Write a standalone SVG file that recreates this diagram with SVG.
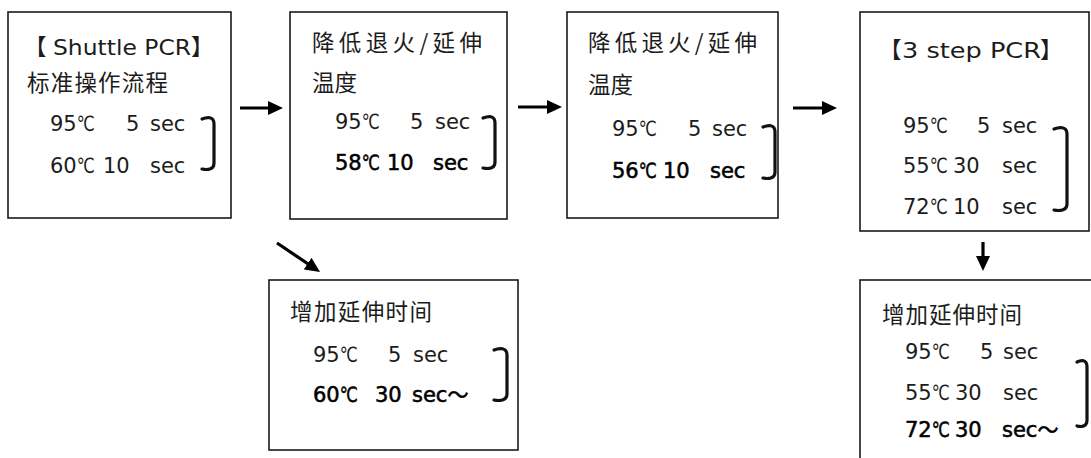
<svg xmlns="http://www.w3.org/2000/svg" width="1091" height="458" viewBox="0 0 1091 458">
<style>
.box{fill:#fff;stroke:#1a1a1a;stroke-width:1.6}
.t{font-family:"DejaVu Sans","Noto Sans CJK SC",sans-serif;font-size:21px;fill:#1c1c1c}
.cjk{font-family:"Noto Sans CJK SC","DejaVu Sans",sans-serif;font-size:22.5px;fill:#1c1c1c}
.b{fill:#000;stroke:#000;stroke-width:0.55}
.br{fill:none;stroke:#111;stroke-width:3.2;stroke-linecap:round}
.ar{stroke:#000;stroke-width:3.2;fill:none}
</style>
<defs>
<marker id="ah" markerUnits="userSpaceOnUse" markerWidth="16" markerHeight="14" refX="7" refY="7" orient="auto">
<path d="M0,0 L15,7 L0,14 z" fill="#000"/>
</marker>
</defs>
<rect width="1091" height="458" fill="#fff"/>

<g id="n1">
<rect class="box" x="8" y="12" width="223" height="206"/>
<text class="cjk" x="24" y="55">【<tspan class="t" x="53" textLength="138" lengthAdjust="spacingAndGlyphs">Shuttle PCR</tspan><tspan x="191">】</tspan></text>
<text class="cjk" x="27" y="91" textLength="141" lengthAdjust="spacing">标准操作流程</text>
<text class="t" y="131"><tspan x="50">95</tspan><tspan textLength="18" lengthAdjust="spacingAndGlyphs">℃</tspan><tspan x="126">5</tspan><tspan x="150">sec</tspan></text>
<text class="t" y="173"><tspan x="50">60</tspan><tspan textLength="18" lengthAdjust="spacingAndGlyphs">℃</tspan><tspan x="103">10</tspan><tspan x="150">sec</tspan></text>
<path class="br" d="M202,119 C207,117 214,116 214,124 V163 C214,170 207,170 202,169"/>
</g>

<g id="n2">
<rect class="box" x="290" y="12" width="217" height="207"/>
<text class="cjk" x="312" y="51" textLength="170" lengthAdjust="spacing">降低退火/延伸</text>
<text class="cjk" x="312" y="91">温度</text>
<text class="t" y="129"><tspan x="335">95</tspan><tspan textLength="18" lengthAdjust="spacingAndGlyphs">℃</tspan><tspan x="410">5</tspan><tspan x="435">sec</tspan></text>
<text class="t b" y="170"><tspan x="335">58</tspan><tspan textLength="18" lengthAdjust="spacingAndGlyphs">℃</tspan><tspan x="387">10</tspan><tspan x="433">sec</tspan></text>
<path class="br" d="M483,118 C488,116 495,115 495,123 V162 C495,169 488,169 483,168"/>
</g>

<g id="n3">
<rect class="box" x="567" y="12" width="211" height="206"/>
<text class="cjk" x="588" y="51" textLength="169" lengthAdjust="spacing">降低退火/延伸</text>
<text class="cjk" x="588" y="93">温度</text>
<text class="t" y="136"><tspan x="612">95</tspan><tspan textLength="18" lengthAdjust="spacingAndGlyphs">℃</tspan><tspan x="688">5</tspan><tspan x="712">sec</tspan></text>
<text class="t b" y="178"><tspan x="612">56</tspan><tspan textLength="18" lengthAdjust="spacingAndGlyphs">℃</tspan><tspan x="663">10</tspan><tspan x="710">sec</tspan></text>
<path class="br" d="M763,127 C768,125 775,124 775,132 V172 C775,179 768,179 763,178"/>
</g>

<g id="n4">
<rect class="box" x="860" y="12" width="229" height="219"/>
<text class="cjk" x="879" y="58">【<tspan class="t" x="902" textLength="139" lengthAdjust="spacingAndGlyphs">3 step PCR</tspan><tspan x="1040">】</tspan></text>
<text class="t" y="133"><tspan x="903">95</tspan><tspan textLength="18" lengthAdjust="spacingAndGlyphs">℃</tspan><tspan x="977">5</tspan><tspan x="1002">sec</tspan></text>
<text class="t" y="173"><tspan x="903">55</tspan><tspan textLength="18" lengthAdjust="spacingAndGlyphs">℃</tspan><tspan x="953">30</tspan><tspan x="1002">sec</tspan></text>
<text class="t" y="214"><tspan x="903">72</tspan><tspan textLength="18" lengthAdjust="spacingAndGlyphs">℃</tspan><tspan x="953">10</tspan><tspan x="1002">sec</tspan></text>
<path class="br" d="M1054,129 C1059,127 1067,126 1067,134 V204 C1067,211 1059,211 1054,210"/>
</g>

<g id="n5">
<rect class="box" x="269" y="280" width="249" height="170"/>
<text class="cjk" x="290" y="320" textLength="142" lengthAdjust="spacing">增加延伸时间</text>
<text class="t" y="362"><tspan x="313">95</tspan><tspan textLength="18" lengthAdjust="spacingAndGlyphs">℃</tspan><tspan x="388">5</tspan><tspan x="413">sec</tspan></text>
<text class="t b" y="402"><tspan x="313">60</tspan><tspan textLength="18" lengthAdjust="spacingAndGlyphs">℃</tspan><tspan x="375">30</tspan><tspan x="412">sec～</tspan></text>
<path class="br" d="M494,350 C499,348 507,347 507,355 V394 C507,401 499,401 494,400"/>
</g>

<g id="n6">
<rect class="box" x="860" y="280" width="240" height="200"/>
<text class="cjk" x="882" y="323" textLength="140" lengthAdjust="spacing">增加延伸时间</text>
<text class="t" y="359"><tspan x="905">95</tspan><tspan textLength="18" lengthAdjust="spacingAndGlyphs">℃</tspan><tspan x="980">5</tspan><tspan x="1003">sec</tspan></text>
<text class="t" y="400"><tspan x="905">55</tspan><tspan textLength="18" lengthAdjust="spacingAndGlyphs">℃</tspan><tspan x="955">30</tspan><tspan x="1003">sec</tspan></text>
<text class="t b" y="437"><tspan x="905">72</tspan><tspan textLength="18" lengthAdjust="spacingAndGlyphs">℃</tspan><tspan x="955">30</tspan><tspan x="1002">sec～</tspan></text>
<path class="br" d="M1077,362 C1081,360 1087,359 1087,367 V420 C1087,427 1081,427 1077,426"/>
</g>

<g id="connectors">
<line class="ar" x1="240" y1="108" x2="275" y2="108" marker-end="url(#ah)"/>
<line class="ar" x1="518" y1="107" x2="554" y2="107" marker-end="url(#ah)"/>
<line class="ar" x1="793" y1="108" x2="829" y2="108" marker-end="url(#ah)"/>
<line class="ar" x1="277" y1="243" x2="313.4" y2="267.5" marker-end="url(#ah)"/>
<line class="ar" x1="983" y1="242" x2="983" y2="263" marker-end="url(#ah)"/>
</g>
</svg>
